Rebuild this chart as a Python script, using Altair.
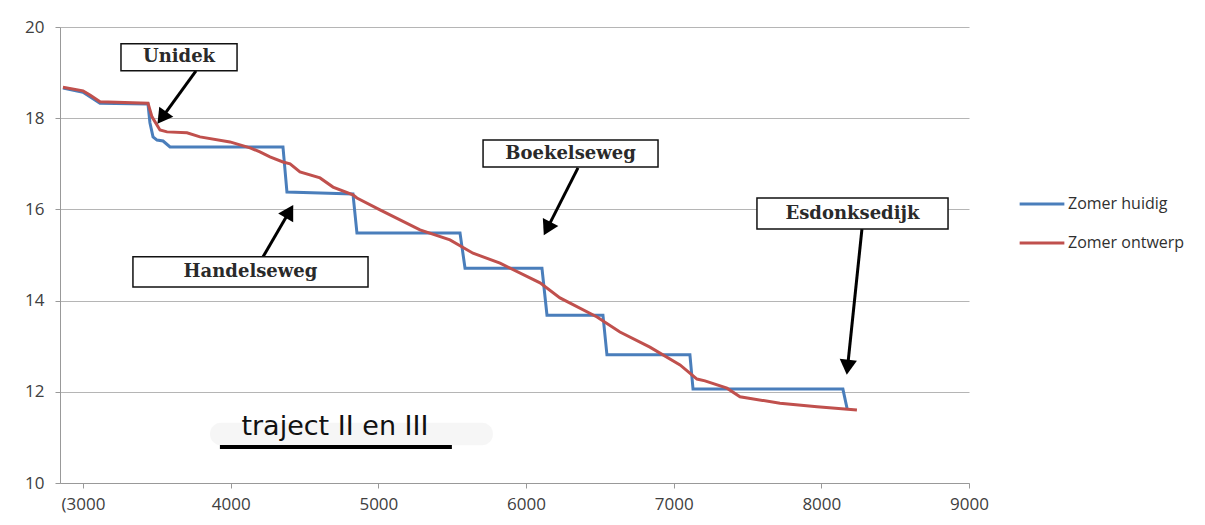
import math
import altair as alt
import pandas as pd

# ---------------- data ----------------
series_names = ["Zomer huidig", "Zomer ontwerp"]
series_colors = ["#4A7EBB", "#C0504D"]

huidig_x = [2864, 3000, 3115, 3440, 3453, 3474, 3501, 3542, 3589, 4354, 4381, 4605,
            4828, 4855, 5553, 5587, 6108, 6142, 6521, 6548, 7110, 7131, 8146, 8174]
huidig_y = [18.66, 18.57, 18.33, 18.31, 17.90, 17.59, 17.52, 17.50, 17.37, 17.37, 16.38, 16.36,
            16.34, 15.48, 15.48, 14.71, 14.71, 13.68, 13.68, 12.81, 12.81, 12.06, 12.06, 11.64]

ontwerp_x = [2864, 3000, 3047, 3115, 3440, 3467, 3521, 3569, 3704, 3792, 3995, 4131, 4198,
             4266, 4354, 4402, 4469, 4605, 4693, 4828, 4855, 5011, 5282, 5485, 5641, 5824,
             6095, 6230, 6481, 6636, 6839, 7043, 7158, 7212, 7361, 7449, 7720, 7971, 8241]
ontwerp_y = [18.68, 18.60, 18.51, 18.36, 18.33, 18.03, 17.74, 17.70, 17.68, 17.59, 17.48, 17.35, 17.26,
             17.15, 17.04, 17.00, 16.82, 16.69, 16.49, 16.32, 16.25, 15.99, 15.55, 15.33, 15.04, 14.82,
             14.39, 14.06, 13.64, 13.31, 12.98, 12.59, 12.28, 12.24, 12.08, 11.89, 11.75, 11.67, 11.60]

x_ticks = [3000, 4000, 5000, 6000, 7000, 8000, 9000]
y_ticks = [10, 12, 14, 16, 18, 20]
x_domain = [2844, 9000]
y_domain = [10, 20]

# annotation boxes (data coordinates)
ann_labels = ["Unidek", "Handelseweg", "Boekelseweg", "Esdonksedijk"]
ann_x1 = [3257, 3338, 5709, 7564]
ann_x2 = [4043, 4930, 6894, 8858]
ann_y1 = [19.63, 14.96, 17.52, 16.25]
ann_y2 = [19.04, 14.30, 16.93, 15.57]
# arrows: start (at box) -> tip
arr_x0 = [3765, 4219, 6352, 8275]
arr_y0 = [19.04, 14.96, 16.91, 15.57]
arr_x1 = [3514, 4415, 6128, 8174]
arr_y1 = [17.92, 16.05, 15.48, 12.43]

traject_text = "traject II en III"
traject_pos = [4706, 11.05]
traject_line = [3927, 5498, 10.79]
traject_glow = [3860, 5776, 10.83, 11.32]

# ---------------- layout ----------------
W, H = 909, 456
PAD = {"left": 52, "top": 19, "right": 228, "bottom": 40}
SX = W / (x_domain[1] - x_domain[0])
SY = H / (y_domain[1] - y_domain[0])
HEAD_SIZE = 300

rows = []
for name, xs_, ys_ in [(series_names[0], huidig_x, huidig_y), (series_names[1], ontwerp_x, ontwerp_y)]:
    for i, (a, b) in enumerate(zip(xs_, ys_)):
        rows.append({"series": name, "x": a, "y": b, "i": i})
lines_df = pd.DataFrame(rows)

box_df = pd.DataFrame({"label": ann_labels, "x": ann_x1, "x2": ann_x2, "y": ann_y1, "y2": ann_y2})
box_df["tx"] = (box_df["x"] + box_df["x2"]) / 2
box_df["ty"] = (box_df["y"] + box_df["y2"]) / 2

h_half = math.sqrt(3) * (math.sqrt(HEAD_SIZE) / 2) / 2
arr_rows = []
for x0, y0, x1, y1 in zip(arr_x0, arr_y0, arr_x1, arr_y1):
    dxp = (x1 - x0) * SX
    dyp = -(y1 - y0) * SY
    L = math.hypot(dxp, dyp)
    ux, uy = dxp / L, dyp / L
    cx = x1 - h_half * ux / SX
    cy = y1 + h_half * uy / SY
    ang = math.degrees(math.atan2(ux, -uy)) % 360
    arr_rows.append({"x": x0, "y": y0, "x2": cx, "y2": cy, "cx": cx, "cy": cy, "angle": ang})
arr_df = pd.DataFrame(arr_rows)

xs = alt.Scale(domain=x_domain, nice=False, zero=False)
ys = alt.Scale(domain=y_domain, nice=False, zero=False)

FONT = "Open Sans"

x_axis = alt.Axis(
    values=x_ticks, title=None, grid=False, format="d", labelFlush=False,
    labelExpr="datum.value == 3000 ? '(3000' : datum.label",
    tickSize=5, labelPadding=8, labelFontSize=17, labelFont=FONT, labelColor="#404040",
    domainColor="#999999", tickColor="#999999")
y_axis = alt.Axis(
    values=y_ticks, title=None, grid=True, gridColor="#b5b5b5", gridWidth=1,
    tickSize=5, labelPadding=11, labelFontSize=17, labelFont=FONT, labelColor="#404040",
    domainColor="#999999", tickColor="#999999")


def X(f):
    return alt.X(f, scale=xs, axis=x_axis, title=None)


def Y(f):
    return alt.Y(f, scale=ys, axis=y_axis, title=None)


glow = alt.Chart(pd.DataFrame({"x": [traject_glow[0]], "x2": [traject_glow[1]],
                               "y": [traject_glow[2]], "y2": [traject_glow[3]]})).mark_rect(
    fill="#f5f5f5", cornerRadius=11, opacity=0.9).encode(
    x=X("x:Q"), x2="x2:Q", y=Y("y:Q"), y2="y2:Q")

lines = alt.Chart(lines_df).mark_line(strokeWidth=3).encode(
    x=X("x:Q"), y=Y("y:Q"), order="i:Q",
    color=alt.Color("series:N", scale=alt.Scale(domain=series_names, range=series_colors),
                    legend=alt.Legend(title=None, orient="none", legendX=958, legendY=153,
                                      symbolType="stroke", symbolSize=2000, symbolStrokeWidth=3,
                                      labelFontSize=16, labelFont=FONT, labelColor="#303030",
                                      rowPadding=7, labelOffset=2, padding=0)))

arrows = alt.Chart(arr_df).mark_rule(strokeWidth=3, color="black").encode(
    x=X("x:Q"), x2="x2:Q", y=Y("y:Q"), y2="y2:Q")
heads = alt.Chart(arr_df).mark_point(shape="triangle", filled=True, color="black",
                                     size=HEAD_SIZE, opacity=1).encode(
    x=X("cx:Q"), y=Y("cy:Q"),
    angle=alt.Angle("angle:Q", scale=None))

boxes = alt.Chart(box_df).mark_rect(fill="white", stroke="#111111", strokeWidth=1.5).encode(
    x=X("x:Q"), x2="x2:Q", y=Y("y:Q"), y2="y2:Q")
box_text = alt.Chart(box_df).mark_text(font="DejaVu Serif", fontWeight="bold", fontSize=18,
                                       color="#2a2a2a", baseline="middle").encode(
    x=X("tx:Q"), y=Y("ty:Q"), text="label:N")

under = alt.Chart(pd.DataFrame({"x": [traject_line[0]], "x2": [traject_line[1]],
                                "y": [traject_line[2]]})).mark_rule(strokeWidth=4, color="black").encode(
    x=X("x:Q"), x2="x2:Q", y=Y("y:Q"))
ttext = alt.Chart(pd.DataFrame({"x": [traject_pos[0]], "y": [traject_pos[1]], "t": [traject_text]})).mark_text(
    font="DejaVu Sans", fontSize=27, color="#111111", baseline="alphabetic").encode(
    x=X("x:Q"), y=Y("y:Q"), text="t:N")

chart = alt.layer(glow, lines, arrows, heads, boxes, box_text, under, ttext).properties(
    width=W, height=H, autosize=alt.AutoSizeParams(type="none"), padding=PAD,
    background="white"
).configure_view(stroke=None)

chart.save("out.html", embed_options={"renderer": "svg", "actions": False})
